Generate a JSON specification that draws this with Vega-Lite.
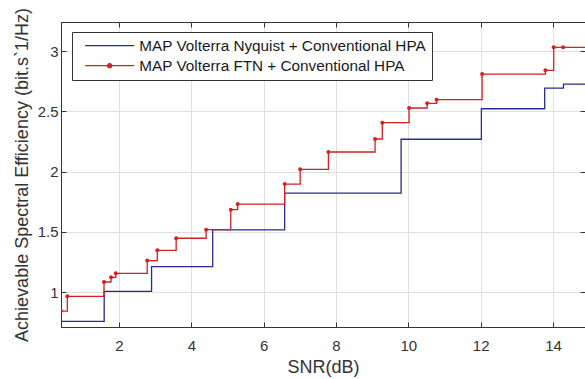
{
  "$schema": "https://vega.github.io/schema/vega-lite/v6.json",
  "autosize": "none",
  "width": 524,
  "height": 305,
  "padding": {"left": 61, "top": 22, "right": 0, "bottom": 52},
  "background": "white",
  "config": {
    "font": "Liberation Sans",
    "view": {"stroke": "#333333", "strokeWidth": 1},
    "axis": {
      "labelFont": "Liberation Sans",
      "titleFont": "Liberation Sans",
      "labelFontSize": 15,
      "titleFontSize": 18,
      "titleFontWeight": "normal",
      "labelColor": "#333333",
      "titleColor": "#333333",
      "domainColor": "#333333",
      "tickColor": "#333333",
      "gridColor": "#e0e0e0",
      "grid": true
    }
  },
  "resolve": {"axis": {"x": "independent", "y": "independent"}},
  "data": {
    "values": [
      {"series": "MAP Volterra Nyquist + Conventional HPA", "snr": 0.396, "se": 0.757},
      {"series": "MAP Volterra Nyquist + Conventional HPA", "snr": 1.59, "se": 1.005},
      {"series": "MAP Volterra Nyquist + Conventional HPA", "snr": 2.9, "se": 1.21},
      {"series": "MAP Volterra Nyquist + Conventional HPA", "snr": 4.59, "se": 1.516},
      {"series": "MAP Volterra Nyquist + Conventional HPA", "snr": 6.58, "se": 1.82},
      {"series": "MAP Volterra Nyquist + Conventional HPA", "snr": 9.8, "se": 2.268},
      {"series": "MAP Volterra Nyquist + Conventional HPA", "snr": 12.02, "se": 2.521},
      {"series": "MAP Volterra Nyquist + Conventional HPA", "snr": 13.77, "se": 2.692},
      {"series": "MAP Volterra Nyquist + Conventional HPA", "snr": 14.29, "se": 2.726},
      {"series": "MAP Volterra Nyquist + Conventional HPA", "snr": 15.0, "se": 2.726},
      {"series": "MAP Volterra FTN + Conventional HPA", "snr": 0.396, "se": 0.842},
      {"series": "MAP Volterra FTN + Conventional HPA", "snr": 0.571, "se": 0.964},
      {"series": "MAP Volterra FTN + Conventional HPA", "snr": 1.585, "se": 1.083},
      {"series": "MAP Volterra FTN + Conventional HPA", "snr": 1.78, "se": 1.122},
      {"series": "MAP Volterra FTN + Conventional HPA", "snr": 1.91, "se": 1.155},
      {"series": "MAP Volterra FTN + Conventional HPA", "snr": 2.78, "se": 1.261},
      {"series": "MAP Volterra FTN + Conventional HPA", "snr": 3.06, "se": 1.346},
      {"series": "MAP Volterra FTN + Conventional HPA", "snr": 3.58, "se": 1.446},
      {"series": "MAP Volterra FTN + Conventional HPA", "snr": 4.41, "se": 1.517},
      {"series": "MAP Volterra FTN + Conventional HPA", "snr": 5.09, "se": 1.683},
      {"series": "MAP Volterra FTN + Conventional HPA", "snr": 5.28, "se": 1.73},
      {"series": "MAP Volterra FTN + Conventional HPA", "snr": 6.58, "se": 1.896},
      {"series": "MAP Volterra FTN + Conventional HPA", "snr": 7.01, "se": 2.018},
      {"series": "MAP Volterra FTN + Conventional HPA", "snr": 7.79, "se": 2.162},
      {"series": "MAP Volterra FTN + Conventional HPA", "snr": 9.08, "se": 2.27},
      {"series": "MAP Volterra FTN + Conventional HPA", "snr": 9.28, "se": 2.405},
      {"series": "MAP Volterra FTN + Conventional HPA", "snr": 10.02, "se": 2.527},
      {"series": "MAP Volterra FTN + Conventional HPA", "snr": 10.52, "se": 2.566},
      {"series": "MAP Volterra FTN + Conventional HPA", "snr": 10.78, "se": 2.596},
      {"series": "MAP Volterra FTN + Conventional HPA", "snr": 12.04, "se": 2.809},
      {"series": "MAP Volterra FTN + Conventional HPA", "snr": 13.79, "se": 2.84},
      {"series": "MAP Volterra FTN + Conventional HPA", "snr": 14.02, "se": 3.031},
      {"series": "MAP Volterra FTN + Conventional HPA", "snr": 14.28, "se": 3.031},
      {"series": "MAP Volterra FTN + Conventional HPA", "snr": 15.0, "se": 3.031}
    ]
  },
  "layer": [
    {
      "mark": {"type": "line", "interpolate": "step-after", "strokeWidth": 1.3, "clip": true},
      "encoding": {
        "x": {
          "field": "snr",
          "type": "quantitative",
          "title": "SNR(dB)",
          "scale": {"domain": [0.396, 14.885], "nice": false, "zero": false},
          "axis": {"values": [2, 4, 6, 8, 10, 12, 14], "tickSize": -5, "labelPadding": 16, "titlePadding": 5, "labelFlush": false}
        },
        "y": {
          "field": "se",
          "type": "quantitative",
          "title": "Achievable Spectral Efficiency (bit.s`1/Hz)",
          "scale": {"domain": [0.7095, 3.241], "nice": false, "zero": false},
          "axis": {"values": [1, 1.5, 2, 2.5, 3], "tickSize": -5, "labelPadding": 8, "titlePadding": 6, "format": "~g", "labelFlush": false}
        },
        "color": {
          "field": "series",
          "type": "nominal",
          "scale": {
            "domain": ["MAP Volterra Nyquist + Conventional HPA", "MAP Volterra FTN + Conventional HPA"],
            "range": ["#2a2a95", "#d42020"]
          },
          "legend": {
            "title": null,
            "orient": "none",
            "legendX": 11,
            "legendY": 10,
            "strokeColor": "#333333",
            "fillColor": "white",
            "padding": 6,
            "symbolType": "M-4.9,0H4.9",
            "symbolSize": 100,
            "symbolOffset": 24,
            "symbolStrokeWidth": 1.3,
            "labelFont": "Liberation Sans",
            "labelFontSize": 15.3,
            "labelColor": "#1a1a1a",
            "labelOffset": 22,
            "labelLimit": 0,
            "rowPadding": 4,
            "encode": {
              "symbols": {
                "update": {
                  "shape": {"signal": "datum.value === 'MAP Volterra FTN + Conventional HPA' ? 'M-4.9,0H4.9M0.4,0A0.4,0.4 0 1,1 -0.4,0A0.4,0.4 0 1,1 0.4,0Z' : 'M-4.9,0H4.9'"},
                  "fill": {"signal": "datum.value === 'MAP Volterra FTN + Conventional HPA' ? '#d42020' : 'transparent'"}
                }
              }
            }
          }
        }
      }
    },
    {
      "transform": [{"filter": "datum.series === 'MAP Volterra FTN + Conventional HPA'"}],
      "mark": {"type": "point", "filled": true, "size": 16, "opacity": 1, "color": "#d42020", "clip": true},
      "encoding": {
        "x": {
          "field": "snr",
          "type": "quantitative",
          "axis": {"orient": "top", "values": [2, 4, 6, 8, 10, 12, 14], "tickSize": -5, "labels": false, "domain": false, "grid": false, "title": null}
        },
        "y": {
          "field": "se",
          "type": "quantitative",
          "axis": {"orient": "right", "values": [1, 1.5, 2, 2.5, 3], "tickSize": -5, "labels": false, "domain": false, "grid": false, "title": null}
        }
      }
    }
  ]
}
